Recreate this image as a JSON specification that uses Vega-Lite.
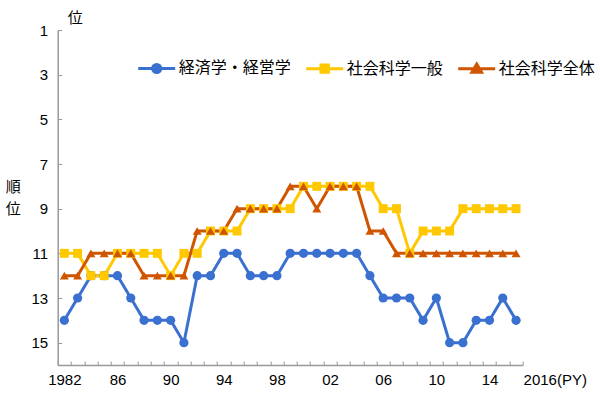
{
  "$schema": "https://vega.github.io/schema/vega-lite/v6.json",
  "autosize": "none",
  "width": 465,
  "height": 335,
  "padding": {"left": 57.7, "top": 30, "right": 77.3, "bottom": 31},
  "background": "white",
  "config": {
    "view": {"stroke": null},
    "font": "Liberation Sans, Noto Sans CJK JP",
    "axis": {"labelFont": "Liberation Sans, Noto Sans CJK JP", "titleFont": "Noto Sans CJK JP, Liberation Sans"}
  },
  "title": {"text": "位", "anchor": "start", "frame": "group", "dx": 10, "offset": -3, "fontSize": 15, "fontWeight": "normal", "font": "Noto Sans CJK JP", "color": "black"},
  "data": {
    "values": [
      {"year": "1982", "経済学・経営学": 14, "社会科学一般": 11, "社会科学全体": 12},
      {"year": "1983", "経済学・経営学": 13, "社会科学一般": 11, "社会科学全体": 12},
      {"year": "1984", "経済学・経営学": 12, "社会科学一般": 12, "社会科学全体": 11},
      {"year": "1985", "経済学・経営学": 12, "社会科学一般": 12, "社会科学全体": 11},
      {"year": "1986", "経済学・経営学": 12, "社会科学一般": 11, "社会科学全体": 11},
      {"year": "1987", "経済学・経営学": 13, "社会科学一般": 11, "社会科学全体": 11},
      {"year": "1988", "経済学・経営学": 14, "社会科学一般": 11, "社会科学全体": 12},
      {"year": "1989", "経済学・経営学": 14, "社会科学一般": 11, "社会科学全体": 12},
      {"year": "1990", "経済学・経営学": 14, "社会科学一般": 12, "社会科学全体": 12},
      {"year": "1991", "経済学・経営学": 15, "社会科学一般": 11, "社会科学全体": 12},
      {"year": "1992", "経済学・経営学": 12, "社会科学一般": 11, "社会科学全体": 10},
      {"year": "1993", "経済学・経営学": 12, "社会科学一般": 10, "社会科学全体": 10},
      {"year": "1994", "経済学・経営学": 11, "社会科学一般": 10, "社会科学全体": 10},
      {"year": "1995", "経済学・経営学": 11, "社会科学一般": 10, "社会科学全体": 9},
      {"year": "1996", "経済学・経営学": 12, "社会科学一般": 9, "社会科学全体": 9},
      {"year": "1997", "経済学・経営学": 12, "社会科学一般": 9, "社会科学全体": 9},
      {"year": "1998", "経済学・経営学": 12, "社会科学一般": 9, "社会科学全体": 9},
      {"year": "1999", "経済学・経営学": 11, "社会科学一般": 9, "社会科学全体": 8},
      {"year": "2000", "経済学・経営学": 11, "社会科学一般": 8, "社会科学全体": 8},
      {"year": "2001", "経済学・経営学": 11, "社会科学一般": 8, "社会科学全体": 9},
      {"year": "2002", "経済学・経営学": 11, "社会科学一般": 8, "社会科学全体": 8},
      {"year": "2003", "経済学・経営学": 11, "社会科学一般": 8, "社会科学全体": 8},
      {"year": "2004", "経済学・経営学": 11, "社会科学一般": 8, "社会科学全体": 8},
      {"year": "2005", "経済学・経営学": 12, "社会科学一般": 8, "社会科学全体": 10},
      {"year": "2006", "経済学・経営学": 13, "社会科学一般": 9, "社会科学全体": 10},
      {"year": "2007", "経済学・経営学": 13, "社会科学一般": 9, "社会科学全体": 11},
      {"year": "2008", "経済学・経営学": 13, "社会科学一般": 11, "社会科学全体": 11},
      {"year": "2009", "経済学・経営学": 14, "社会科学一般": 10, "社会科学全体": 11},
      {"year": "2010", "経済学・経営学": 13, "社会科学一般": 10, "社会科学全体": 11},
      {"year": "2011", "経済学・経営学": 15, "社会科学一般": 10, "社会科学全体": 11},
      {"year": "2012", "経済学・経営学": 15, "社会科学一般": 9, "社会科学全体": 11},
      {"year": "2013", "経済学・経営学": 14, "社会科学一般": 9, "社会科学全体": 11},
      {"year": "2014", "経済学・経営学": 14, "社会科学一般": 9, "社会科学全体": 11},
      {"year": "2015", "経済学・経営学": 13, "社会科学一般": 9, "社会科学全体": 11},
      {"year": "2016", "経済学・経営学": 14, "社会科学一般": 9, "社会科学全体": 11}
    ]
  },
  "transform": [
    {"fold": ["経済学・経営学", "社会科学一般", "社会科学全体"], "as": ["series", "rank"]}
  ],
  "encoding": {
    "x": {
      "field": "year", "type": "ordinal", "bandPosition": 0.5,
      "scale": {"type": "band", "paddingInner": 0, "paddingOuter": 0},
      "axis": {
        "title": null, "tickBand": "extent", "tickSize": -4, "tickColor": "#999999",
        "domainColor": "#999999", "domainWidth": 1.5, "labelAngle": 0, "labelOverlap": false,
        "labelFontSize": 15, "labelColor": "black", "labelPadding": 11,
        "labelAlign": {"condition": {"test": "datum.value == '2016'", "value": "left"}, "value": "center"},
        "labelOffset": {"condition": {"test": "datum.value == '2016'", "value": 7}, "value": 0},
        "labelExpr": "datum.value == '1982' ? '1982' : datum.value == '2016' ? '2016(PY)' : (toNumber(datum.value) - 1982) % 4 == 0 ? substring(datum.value, 2) : ''"
      }
    },
    "y": {
      "field": "rank", "type": "quantitative",
      "scale": {"domain": [1, 16], "reverse": true, "nice": false, "zero": false},
      "axis": {
        "values": [1, 3, 5, 7, 9, 11, 13, 15], "grid": false, "tickSize": -4, "tickColor": "#999999",
        "domainColor": "#999999", "domainWidth": 1.5, "labelFontSize": 15, "labelColor": "black", "labelPadding": 14,
        "title": ["順", "位"], "titleAngle": 0, "titleX": -45, "titleY": 149, "titleAlign": "center",
        "titleBaseline": "top", "titleFontSize": 15, "titleFontWeight": "normal", "titleLineHeight": 22, "titleColor": "black"
      }
    }
  },
  "layer": [
    {
      "mark": {"type": "line", "strokeWidth": 3},
      "encoding": {
        "color": {
          "field": "series", "type": "nominal",
          "scale": {"domain": ["経済学・経営学", "社会科学一般", "社会科学全体"], "range": ["#3A70D0", "#FFC800", "#D05500"]},
          "legend": {
            "title": null, "orient": "none", "legendX": 79, "legendY": 18, "direction": "horizontal", "columns": 3,
            "symbolSize": 1369, "symbolStrokeWidth": 3, "labelFontSize": 16, "labelFont": "Noto Sans CJK JP", "labelColor": "black",
            "labelOffset": 2, "columnPadding": 8, "padding": 0, "labelLimit": 200,
            "symbolType": {"expr": "datum.value === '経済学・経営学' ? 'M-1,0H1M0.22,0A0.22,0.22 0 1,1 -0.22,0A0.22,0.22 0 1,1 0.22,0' : datum.value === '社会科学一般' ? 'M-1,0H1M-0.2,-0.2H0.2V0.2H-0.2Z' : 'M-1,0H1M0,-0.25L0.26,0.19L-0.26,0.19Z'"},
            "symbolFillColor": {"expr": "datum.value === '経済学・経営学' ? '#3A70D0' : datum.value === '社会科学一般' ? '#FFC800' : '#D05500'"}
          }
        }
      }
    },
    {
      "transform": [{"filter": "datum.series === '経済学・経営学'"}],
      "mark": {"type": "point", "filled": true, "opacity": 1, "size": 85, "shape": "circle", "color": "#3A70D0"}
    },
    {
      "transform": [{"filter": "datum.series === '社会科学一般'"}],
      "mark": {"type": "point", "filled": true, "opacity": 1, "size": 80, "shape": "square", "color": "#FFC800"}
    },
    {
      "transform": [{"filter": "datum.series === '社会科学全体'"}],
      "mark": {"type": "point", "filled": true, "opacity": 1, "size": 80, "shape": "triangle-up", "color": "#D05500"}
    }
  ]
}
